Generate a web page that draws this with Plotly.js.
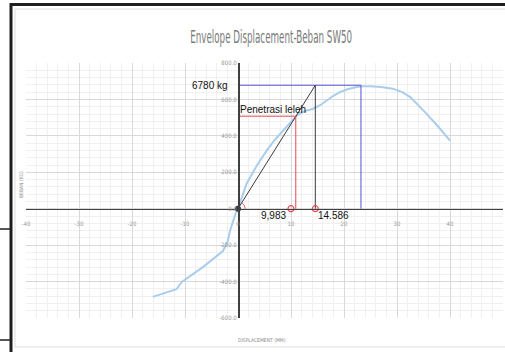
<!DOCTYPE html>
<html>
<head>
<meta charset="utf-8">
<script src="https://cdn.plot.ly/plotly-3.0.1.min.js"></script>
<style>html,body{margin:0;padding:0;background:#fff;}#chart{width:505px;height:352px;}</style>
</head>
<body>
<div id="chart"></div>
<script>
// Envelope curve (displacement mm, load)
var dispEnvelope = [-16.1, -13.5, -11.6, -10.6, -6.5, -2.8, -1.9, -1.5, -0.5, 0, 1.6, 3.5, 5.4, 7, 8.5, 10, 11.1, 12.5, 14.2, 15.5, 16.7, 18, 19.2, 20.8, 22.4, 23.5, 25, 27, 29.2, 31, 32.5, 34, 35.6, 37.8, 40];
var loadEnvelope = [-484, -462, -442, -402, -318, -231, -176, -121, -30, 0, 136, 235, 319, 380, 429, 475, 512, 535, 549, 568, 594, 620, 640, 657, 668, 672, 672, 668, 659, 640, 613, 570, 521, 450, 374];

// Key values
var pMax = 678;          // 6780 kg
var pYield = 508;        // penetrasi leleh level
var dYieldLine = 10.9;   // diagonal meets yield level
var dYield = 9.983;
var dUlt = 14.586;
var dPeak = 23.2;

var xTicks = [-40, -30, -20, -10, 0, 10, 20, 30, 40, 50];
var yTicks = [-600, -400, -200, 0, 200, 400, 600, 800];

var labelMax = '6780 kg';
var labelYield = 'Penetrasi leleh';
var labelDy = '9,983';
var labelDu = '14.586';

var L = 26, R = 2, T = 63, B = 34, W = 505, H = 352;
var pw = W - L - R, ph = H - T - B;
function px(x) { return (x - L) / pw; }
function py(y) { return (H - B - y) / ph; }

var traces = [
  {x: dispEnvelope, y: loadEnvelope, mode: 'lines', line: {color: '#a9cdec', width: 2}, hoverinfo: 'none'},
  // blue lines
  {x: [0, dPeak, dPeak], y: [pMax, pMax, 0], mode: 'lines', line: {color: '#5551d6', width: 1}, hoverinfo: 'none'},
  // black diagonal and vertical
  {x: [0, dUlt, dUlt], y: [0, pMax, 0], mode: 'lines', line: {color: '#3a3a3a', width: 1}, hoverinfo: 'none'},
  // red lines
  {x: [0, dYieldLine, dYieldLine], y: [pYield, pYield, 0], mode: 'lines', line: {color: '#e8474f', width: 1}, hoverinfo: 'none'},
  // markers
  {x: [dYield, dUlt], y: [0, 0], mode: 'markers', marker: {color: 'rgba(0,0,0,0)', size: 6, line: {color: '#e8474f', width: 1.2}}, hoverinfo: 'none'},
  {x: [0], y: [0], mode: 'markers', marker: {color: '#2a3a4a', size: 6}, hoverinfo: 'none'}
];

// small angle arc near origin (pixel radius converted to data units)
var arcPts = [];
var ang = Math.atan2(pMax * 0.182, dUlt * 5.3);
for (var i = 0; i <= 8; i++) {
  var a = ang * i / 8;
  arcPts.push((7 * Math.cos(a) / 5.3).toFixed(3) + ',' + (7 * Math.sin(a) / 0.182).toFixed(2));
}

var layout = {
  width: W, height: H,
  margin: {l: L, r: R, t: T, b: B},
  paper_bgcolor: '#ffffff', plot_bgcolor: '#ffffff',
  showlegend: false,
  title: {text: 'Envelope Displacement-Beban SW50', x: 0.537, xanchor: 'center', y: 1 - 37 / H, yanchor: 'middle', yref: 'container',
          font: {family: 'DejaVu Sans Condensed, Liberation Sans Narrow, sans-serif', size: 17, color: '#7a7a7a'}},
  xaxis: {range: [-40, 50], tickvals: xTicks, ticktext: xTicks.map(String), anchor: 'free', position: 600 / 1400,
          showline: true, linecolor: '#404040', linewidth: 1.5, zeroline: false,
          showgrid: true, gridcolor: '#d9d9d9', gridwidth: 1,
          minor: {dtick: 2, showgrid: true, gridcolor: '#f0f0f0'},
          ticks: '', ticklabelstandoff: 9, tickfont: {family: 'DejaVu Sans Condensed, sans-serif', size: 6, color: '#9a9a9a'}, fixedrange: true},
  yaxis: {range: [-600, 800], tickvals: yTicks, ticktext: yTicks.map(function (v) { return v.toFixed(1); }), anchor: 'free', position: 40 / 90,
          showline: true, linecolor: '#404040', linewidth: 1.5, zeroline: false,
          showgrid: true, gridcolor: '#d9d9d9', gridwidth: 1,
          minor: {dtick: 40, showgrid: true, gridcolor: '#f0f0f0'},
          ticks: '', tickfont: {family: 'DejaVu Sans Condensed, sans-serif', size: 6, color: '#9a9a9a'}, fixedrange: true},
  annotations: [
    {x: -1.5, y: pMax, xref: 'x', yref: 'y', text: labelMax, showarrow: false, xanchor: 'right', yanchor: 'middle', font: {family: 'Liberation Sans, Arial, sans-serif', size: 10, color: '#111'}},
    {x: 0, y: pYield - 5, xref: 'x', yref: 'y', text: labelYield, showarrow: false, xanchor: 'left', yanchor: 'bottom', font: {family: 'Liberation Sans, Arial, sans-serif', size: 10, color: '#111'}},
    {x: 6.7, y: 2, xref: 'x', yref: 'y', text: labelDy, showarrow: false, xanchor: 'center', yanchor: 'top', font: {family: 'Liberation Sans, Arial, sans-serif', size: 10, color: '#111'}},
    {x: 18.1, y: 2, xref: 'x', yref: 'y', text: labelDu, showarrow: false, xanchor: 'center', yanchor: 'top', font: {family: 'Liberation Sans, Arial, sans-serif', size: 10, color: '#111'}},
    {x: px(21), y: py(185), xref: 'paper', yref: 'paper', text: 'BEBAN (KG)', textangle: -90, showarrow: false, xanchor: 'center', yanchor: 'middle', font: {family: 'DejaVu Sans Condensed, sans-serif', size: 5, color: '#8a8a8a'}},
    {x: px(262), y: py(340), xref: 'paper', yref: 'paper', text: 'DISPLACEMENT (MM)', showarrow: false, xanchor: 'center', yanchor: 'middle', font: {family: 'DejaVu Sans Condensed, sans-serif', size: 5, color: '#8a8a8a'}}
  ],
  shapes: [
    {type: 'path', xref: 'x', yref: 'y', path: 'M ' + arcPts.join(' L '), line: {color: '#e8474f', width: 1}},
    {type: 'rect', xref: 'paper', yref: 'paper', x0: px(15), x1: px(512), y0: py(9), y1: py(347), line: {color: '#dedede', width: 1}},
    {type: 'line', xref: 'paper', yref: 'paper', x0: px(11), x1: px(11), y0: py(3), y1: py(360), line: {color: '#1e1e1e', width: 3}},
    {type: 'line', xref: 'paper', yref: 'paper', x0: px(10), x1: px(510), y0: py(4.5), y1: py(4.5), line: {color: '#1e1e1e', width: 3}},
    {type: 'line', xref: 'paper', yref: 'paper', x0: px(-2), x1: px(11), y0: py(229), y1: py(229), line: {color: '#1e1e1e', width: 1.5}},
    {type: 'line', xref: 'paper', yref: 'paper', x0: px(-2), x1: px(11), y0: py(340), y1: py(340), line: {color: '#1e1e1e', width: 1.5}}
  ]
};

Plotly.newPlot('chart', traces, layout, {displayModeBar: false, staticPlot: true}).then(function (gd) {
  // condense the title to the narrow width seen in the reference
  var t = gd.querySelector('.gtitle');
  if (t) {
    t.setAttribute('textLength', '162');
    t.setAttribute('lengthAdjust', 'spacingAndGlyphs');
  }
});
</script>
</body>
</html>
